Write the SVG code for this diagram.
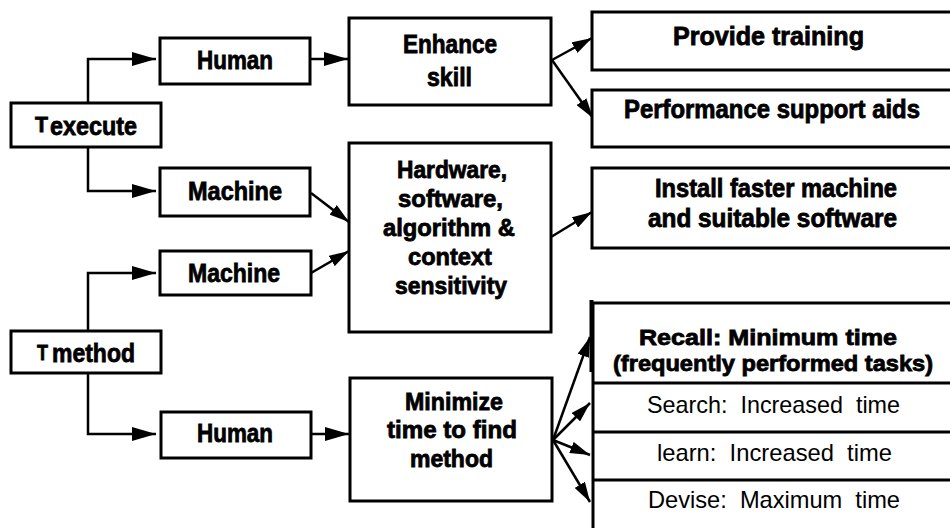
<svg xmlns="http://www.w3.org/2000/svg" width="950" height="528" viewBox="0 0 950 528">
<style>
.box{fill:#fff;stroke:#000;stroke-width:3}
.ln{fill:none;stroke:#000;stroke-width:2.5}
.b{font-family:"Liberation Sans",Arial,sans-serif;font-weight:700;fill:#000;stroke:#000;stroke-width:0.8}
.r{font-family:"Liberation Sans",Arial,sans-serif;font-weight:400;fill:#000;white-space:pre}
</style>
<defs>
<marker id="ah" markerUnits="userSpaceOnUse" viewBox="0 0 24 14" refX="24" refY="7" markerWidth="24" markerHeight="14" orient="auto">
<path d="M0,0 L24,7 L0,14 Z" fill="#000"/>
</marker>
<marker id="as" markerUnits="userSpaceOnUse" viewBox="0 0 20 12" refX="20" refY="6" markerWidth="20" markerHeight="12" orient="auto">
<path d="M0,0 L20,6 L0,12 Z" fill="#000"/>
</marker>
</defs>

<g id="connectors">
<path class="ln" d="M88,103 V59 H156" marker-end="url(#ah)"/>
<path class="ln" d="M88,147 V191 H156" marker-end="url(#ah)"/>
<path class="ln" d="M88,331 V273 H156" marker-end="url(#ah)"/>
<path class="ln" d="M88,373 V434 H156" marker-end="url(#ah)"/>
<path class="ln" d="M310,59 H348" marker-end="url(#ah)"/>
<path class="ln" d="M311,434 H349" marker-end="url(#ah)"/>
<path class="ln" d="M311,193 L349,222" marker-end="url(#as)"/>
<path class="ln" d="M311,273 L349,251" marker-end="url(#as)"/>
<path class="ln" d="M552,60 L592,38" marker-end="url(#as)"/>
<path class="ln" d="M552,60 L593,118" marker-end="url(#as)"/>
<path class="ln" d="M551,237 L592,212" marker-end="url(#as)"/>
<path class="ln" d="M553,440 L590,337" marker-end="url(#as)"/>
<path class="ln" d="M553,440 L590,403" marker-end="url(#as)"/>
<path class="ln" d="M553,440 L590,455" marker-end="url(#as)"/>
<path class="ln" d="M553,440 L590,502" marker-end="url(#as)"/>
</g>

<g id="texecute">
<rect class="box" x="11" y="103" width="150" height="44"/>
<text class="b" x="35" y="132" font-size="22" textLength="13" lengthAdjust="spacingAndGlyphs">T</text>
<text class="b" x="50" y="135" font-size="26" textLength="87" lengthAdjust="spacingAndGlyphs">execute</text>
</g>
<g id="tmethod">
<rect class="box" x="11" y="331" width="150" height="42"/>
<text class="b" x="37" y="360" font-size="22" textLength="11" lengthAdjust="spacingAndGlyphs">T</text>
<text class="b" x="52" y="362" font-size="26" textLength="83" lengthAdjust="spacingAndGlyphs">method</text>
</g>
<g id="human1">
<rect class="box" x="160" y="38" width="150" height="46"/>
<text class="b" x="197" y="69" font-size="26" textLength="76" lengthAdjust="spacingAndGlyphs">Human</text>
</g>
<g id="machine1">
<rect class="box" x="160" y="168" width="150" height="48"/>
<text class="b" x="188" y="200" font-size="26" textLength="94" lengthAdjust="spacingAndGlyphs">Machine</text>
</g>
<g id="machine2">
<rect class="box" x="160" y="251" width="151" height="44"/>
<text class="b" x="188" y="282" font-size="26" textLength="92" lengthAdjust="spacingAndGlyphs">Machine</text>
</g>
<g id="human2">
<rect class="box" x="161" y="412" width="150" height="46"/>
<text class="b" x="197" y="442" font-size="26" textLength="76" lengthAdjust="spacingAndGlyphs">Human</text>
</g>
<g id="enhance">
<rect class="box" x="349" y="18" width="202" height="87"/>
<text class="b" x="403" y="53" font-size="25" textLength="94" lengthAdjust="spacingAndGlyphs">Enhance</text>
<text class="b" x="427" y="86" font-size="25" textLength="45" lengthAdjust="spacingAndGlyphs">skill</text>
</g>
<g id="hardware">
<rect class="box" x="349" y="143" width="202" height="189"/>
<text class="b" x="397" y="178" font-size="24" textLength="110" lengthAdjust="spacingAndGlyphs">Hardware,</text>
<text class="b" x="398" y="207" font-size="24" textLength="105" lengthAdjust="spacingAndGlyphs">software,</text>
<text class="b" x="383" y="236" font-size="24" textLength="132" lengthAdjust="spacingAndGlyphs">algorithm &amp;</text>
<text class="b" x="408" y="265" font-size="24" textLength="84" lengthAdjust="spacingAndGlyphs">context</text>
<text class="b" x="395" y="294" font-size="24" textLength="112" lengthAdjust="spacingAndGlyphs">sensitivity</text>
</g>
<g id="minimize">
<rect class="box" x="350" y="378" width="202" height="123"/>
<text class="b" x="405" y="410" font-size="24" textLength="98" lengthAdjust="spacingAndGlyphs">Minimize</text>
<text class="b" x="387" y="438" font-size="24" textLength="130" lengthAdjust="spacingAndGlyphs">time to find</text>
<text class="b" x="410" y="467" font-size="24" textLength="83" lengthAdjust="spacingAndGlyphs">method</text>
</g>
<g id="provide">
<rect class="box" x="592" y="12" width="370" height="58"/>
<text class="b" x="673" y="45" font-size="25" textLength="191" lengthAdjust="spacingAndGlyphs">Provide training</text>
</g>
<g id="performance">
<rect class="box" x="592" y="90" width="370" height="57"/>
<text class="b" x="624" y="118" font-size="25" textLength="296" lengthAdjust="spacingAndGlyphs">Performance support aids</text>
</g>
<g id="install">
<rect class="box" x="592" y="168" width="370" height="80"/>
<text class="b" x="655" y="197" font-size="25" textLength="242" lengthAdjust="spacingAndGlyphs">Install faster machine</text>
<text class="b" x="648" y="227" font-size="25" textLength="249" lengthAdjust="spacingAndGlyphs">and suitable software</text>
</g>
<g id="methods-stack">
<path class="box" d="M962,303 H593 V540"/>
<path fill="none" stroke="#000" stroke-width="4" d="M591.5,300 V372"/>
<path fill="none" stroke="#000" stroke-width="3" d="M593,383 H962 M593,432 H962 M593,480 H962"/>
<g id="recall">
<text class="b" x="639" y="345" font-size="22" textLength="258" lengthAdjust="spacingAndGlyphs">Recall: Minimum time</text>
<text class="b" x="613" y="371" font-size="22" textLength="320" lengthAdjust="spacingAndGlyphs">(frequently performed tasks)</text>
</g>
<g id="search">
<text class="r" x="647" y="413" font-size="24" textLength="253" lengthAdjust="spacingAndGlyphs">Search:  Increased  time</text>
</g>
<g id="learn">
<text class="r" x="657" y="461" font-size="24" textLength="235" lengthAdjust="spacingAndGlyphs">learn:  Increased  time</text>
</g>
<g id="devise">
<text class="r" x="648" y="508" font-size="24" textLength="252" lengthAdjust="spacingAndGlyphs">Devise:  Maximum  time</text>
</g>
</g>
</svg>
